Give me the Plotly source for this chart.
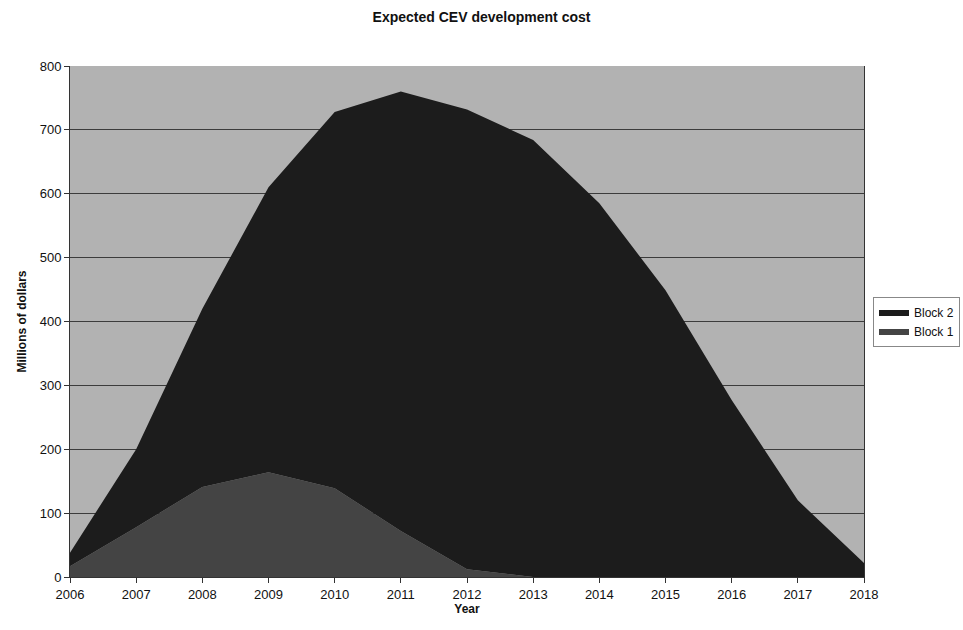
import plotly.graph_objects as go

years = [2006, 2007, 2008, 2009, 2010, 2011, 2012, 2013, 2014, 2015, 2016, 2017, 2018]
block1 = [17, 78, 141, 164, 139, 72, 12, 0, 0, 0, 0, 0, 0]
block2 = [21, 122, 279, 446, 589, 688, 720, 684, 585, 449, 277, 120, 22]
y_ticks = [0, 100, 200, 300, 400, 500, 600, 700, 800]

fig = go.Figure()
fig.add_trace(go.Scatter(x=years, y=block1, name="Block 1", stackgroup="one",
                         mode="lines", line=dict(width=0, color="#444444"),
                         fillcolor="#444444"))
fig.add_trace(go.Scatter(x=years, y=block2, name="Block 2", stackgroup="one",
                         mode="lines", line=dict(width=0, color="#1c1c1c"),
                         fillcolor="#1c1c1c"))

L, R = 70, 3
W = 963 - L - R
fig.update_layout(
    width=963, height=630,
    margin=dict(l=L, r=R, t=66, b=53, autoexpand=False),
    paper_bgcolor="white",
    plot_bgcolor="#b2b2b2",
    font=dict(family="Liberation Sans, Arial, sans-serif", size=13, color="#111111"),
    title=dict(text="<b>Expected CEV development cost</b>", x=0.5, xanchor="center",
               y=0.98, yanchor="top", font=dict(size=14)),
    xaxis=dict(title=dict(text="<b>Year</b>", standoff=3, font=dict(size=12)),
               domain=[0, (864 - L) / W],
               range=[2006, 2018], tickmode="array", tickvals=years,
               showgrid=False, zeroline=False, showline=True, linecolor="#333333",
               linewidth=1, ticks="outside", ticklen=5, tickcolor="#333333",
               mirror=False),
    yaxis=dict(title=dict(text="<b>Millions of dollars</b>", standoff=10, font=dict(size=12)),
               range=[0, 800], tickmode="array", tickvals=y_ticks,
               showgrid=True, gridcolor="#3c3c3c", gridwidth=1, zeroline=False,
               showline=True, linecolor="#333333", linewidth=1, ticks="outside",
               ticklen=5, tickcolor="#333333", mirror=True),
    legend=dict(x=1.0, y=0.5, xanchor="right", yanchor="middle",
                traceorder="reversed", bordercolor="#888888", borderwidth=1,
                bgcolor="white", font=dict(size=12), itemwidth=30,
                tracegroupgap=0),
    showlegend=True,
)

fig.write_html("out.html")
